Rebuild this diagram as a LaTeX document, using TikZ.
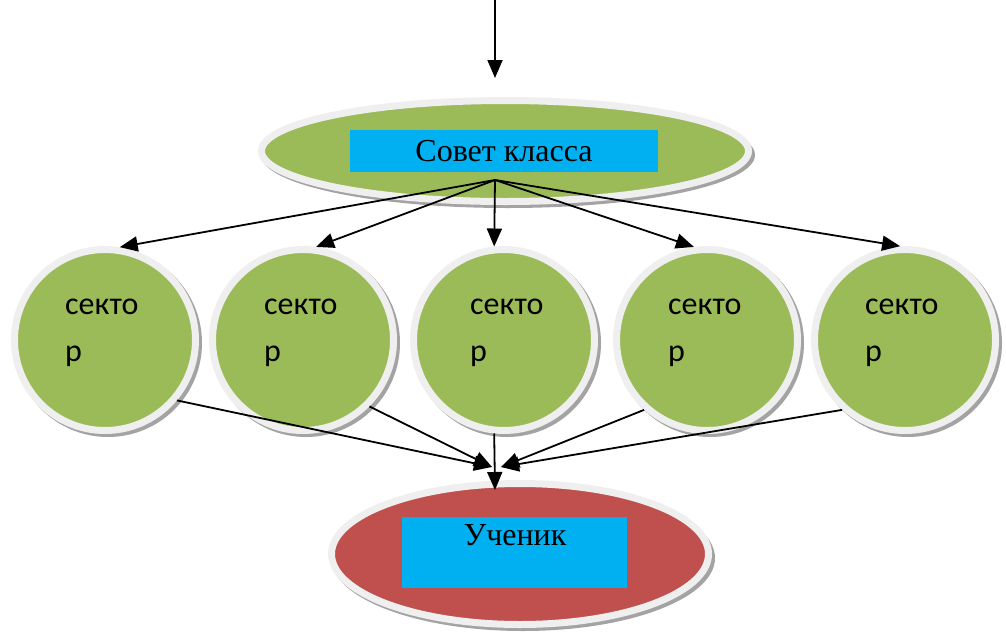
\documentclass[tikz,border=0pt]{standalone}
\usepackage{fontspec}
\setmainfont{Liberation Serif}
\newfontfamily\calib{Carlito}
\usetikzlibrary{arrows.meta,shapes.geometric}
\definecolor{grn}{HTML}{9BBB59}
\definecolor{blu}{HTML}{00B0F0}
\definecolor{rd}{HTML}{C0504D}
\definecolor{ring}{HTML}{EFEFEF}
\definecolor{shd}{HTML}{8C8C8C}
\tikzset{
  x=1pt,y=-1pt,
  arr/.style={line width=1.8pt,-{Triangle[length=18pt,width=15pt]}},
  ringed/.style={draw=ring,line width=7pt},
  sect/.style={circle,fill=grn,ringed,minimum size=181pt,inner sep=0pt},
  secttxt/.style={font=\calib\fontsize{32}{47}\selectfont,align=left,anchor=north west,inner sep=0pt},
  lab/.style={fill=blu,inner sep=0pt,font=\fontsize{32}{38}\selectfont},
  shadowfill/.style={fill=shd,opacity=0.8}
}
\begin{document}
\begin{tikzpicture}
\useasboundingbox (0,0) rectangle (1006,632);
% shadows
\fill[shadowfill] (508,155) ellipse [x radius=247, y radius=53];
\foreach \cx in {105,303,504,707,905}{
  \fill[shadowfill] (\cx+3,343) circle [radius=94];
}
\fill[shadowfill] (523,558) ellipse [x radius=192, y radius=73];
% top ellipse
\node[ellipse,fill=grn,ringed,minimum width=487pt,minimum height=101pt,inner sep=0pt] (council) at (505,151) {};
\node[lab,minimum width=308pt,minimum height=42pt] (councillab) at (504,151) {Совет класса};
\coordinate (topstart) at (495,0);
\coordinate (topend) at (495,78);
\draw[arr] (topstart) -- (topend);
% sectors
\node[sect] (s1) at (105,340) {};
\node[sect] (s2) at (303,340) {};
\node[sect] (s3) at (504,340) {};
\node[sect] (s4) at (707,340) {};
\node[sect] (s5) at (905,340) {};
\node[secttxt] (t1) at (65,299) {секто\\р};
\node[secttxt] (t2) at (264,299) {секто\\р};
\node[secttxt] (t3) at (470,299) {секто\\р};
\node[secttxt] (t4) at (668,299) {секто\\р};
\node[secttxt] (t5) at (865,299) {секто\\р};
% bottom ellipse
\node[ellipse,fill=rd,ringed,minimum width=377pt,minimum height=141pt,inner sep=0pt] (pupil) at (520,554) {};
\node[lab,minimum width=225pt,minimum height=71pt,anchor=north] (pupillab) at (514,517) {};
\node[font=\fontsize{32}{38}\selectfont,anchor=north,inner sep=0pt] (pupiltxt) at (515,524) {Ученик};
% arrows from council
\coordinate (hub) at (495,180);
\draw[arr] (hub) -- (s1.81);
\draw[arr] (hub) -- (s2.82);
\draw[arr] (hub) -- (s3.96);
\draw[arr] (hub) -- (s4.98);
\draw[arr] (hub) -- (s5.93);
% arrows to pupil
\coordinate (inL) at (492,467);
\coordinate (inR) at (501,467);
\coordinate (inM) at (495,490);
\draw[arr] (s1.-40) -- (inL);
\draw[arr] (s2.-45) -- (inL);
\draw[arr] (s3.-96) -- (inM);
\draw[arr] (s4.-132) -- (inR);
\draw[arr] (s5.-132) -- (inR);
\end{tikzpicture}
\end{document}
